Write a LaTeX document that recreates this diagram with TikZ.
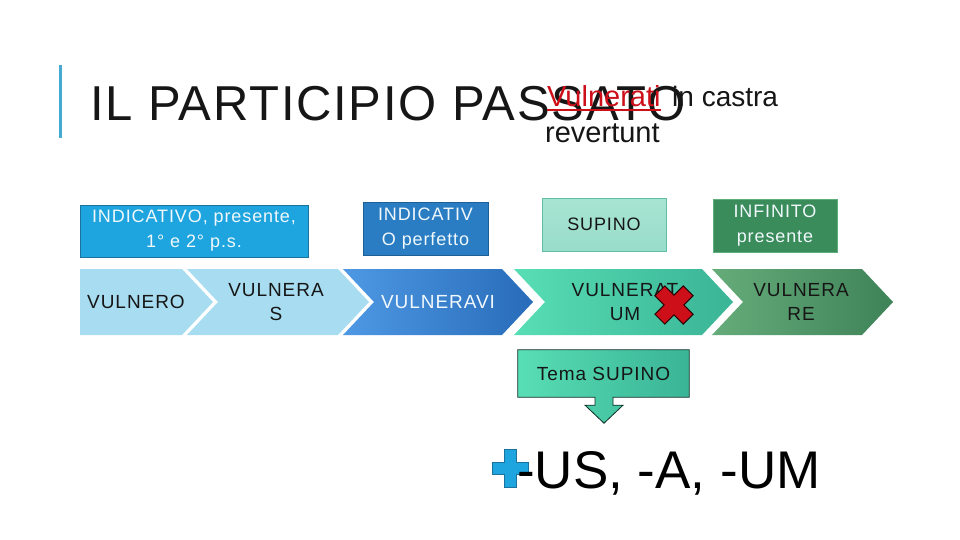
\documentclass[tikz,border=0pt]{standalone}
\usepackage{fontspec}
\setmainfont{Liberation Sans}
\usetikzlibrary{positioning}

\definecolor{barra}{RGB}{70,170,210}
\definecolor{azzurro}{RGB}{30,164,222}
\definecolor{azzurroB}{RGB}{25,115,155}
\definecolor{blu}{RGB}{42,125,195}
\definecolor{bluB}{RGB}{30,95,150}
\definecolor{menta}{RGB}{168,228,210}
\definecolor{mentaB}{RGB}{95,190,165}
\definecolor{verde}{RGB}{58,140,90}
\definecolor{verdeB}{RGB}{95,175,125}
\definecolor{celeste}{RGB}{168,220,240}
\definecolor{bluA}{RGB}{78,152,228}
\definecolor{bluZ}{RGB}{40,108,185}
\definecolor{acquaA}{RGB}{88,222,180}
\definecolor{acquaZ}{RGB}{58,180,150}
\definecolor{prato}{RGB}{102,172,122}
\definecolor{pratoZ}{RGB}{62,130,88}
\definecolor{rosso}{RGB}{205,15,25}
\definecolor{testo}{RGB}{22,22,22}
\definecolor{bianco}{RGB}{240,248,252}

\begin{document}
\begin{tikzpicture}[x=1pt,y=-1pt]
% define box types
\tikzstyle{topbox}=[draw, rectangle, line width=1pt, align=center,
    inner sep=0pt, font=\fontsize{18}{25}\selectfont\addfontfeatures{LetterSpace=5}]
\tikzstyle{lbl}=[align=center, inner sep=0pt, text=testo,
    font=\fontsize{19}{24}\selectfont\addfontfeatures{LetterSpace=5}]
\tikzstyle{chev}=[draw=none]
\useasboundingbox[fill=white] (0,0) rectangle (960,540);
% title
\fill[barra] (59,65) rectangle (62,138);
\node[anchor=base west, inner sep=0pt, text=testo,
    font=\fontsize{49}{60}\selectfont\addfontfeatures{LetterSpace=3.5}] (titolo) at (90,121) {IL PARTICIPIO PASSATO};
\node[anchor=base west, inner sep=0pt, text=rosso,
    font=\fontsize{29}{36}\selectfont] (vuln) at (547,107) {Vulnerati};
\node[anchor=base west, inner sep=0pt, text=testo,
    font=\fontsize{28}{36}\selectfont] (castra) at (672,107) {in castra};
\node[anchor=base west, inner sep=0pt, text=testo,
    font=\fontsize{29}{36}\selectfont] (revert) at (545,143) {revertunt};
\draw[rosso, line width=2.5pt] ([yshift=-3pt]vuln.base west) -- ([yshift=-3pt]vuln.base east);
% top boxes
\node[topbox, fill=azzurro, draw=azzurroB, text=bianco,
    minimum width=228pt, minimum height=52pt] (indpres) at (194,231)
    {INDICATIVO, presente,\\1° e 2° p.s.};
\node[topbox, fill=blu, draw=bluB, text=bianco,
    minimum width=125pt, minimum height=53pt] (indperf) at (425.5,228.5)
    {INDICATIV\\O perfetto};
\node[topbox, top color=menta, bottom color=menta!85!acquaZ, draw=mentaB, text=testo,
    minimum width=124pt, minimum height=53pt] (supino) at (604,224.5) {SUPINO};
\node[topbox, fill=verde, draw=verdeB, text=bianco,
    minimum width=124pt, minimum height=53pt] (infinito) at (775,225.5)
    {INFINITO\\presente};
% chevrons
\path[chev, fill=celeste] (80,269) -- (182,269) -- (213,302) -- (182,335) -- (80,335) -- cycle;
\path[chev, fill=celeste] (187,269) -- (338,269) -- (369,302) -- (338,335) -- (187,335) -- (218,302) -- cycle;
\path[chev, left color=bluA, right color=bluZ] (343,269) -- (502,269) -- (533,302) -- (502,335) -- (343,335) -- (374,302) -- cycle;
\path[chev, left color=acquaA, right color=acquaZ] (514,269) -- (702,269) -- (733,302) -- (702,335) -- (514,335) -- (545,302) -- cycle;
\path[chev, left color=prato, right color=pratoZ] (712,269) -- (862,269) -- (893,302) -- (862,335) -- (712,335) -- (743,302) -- cycle;
\node[lbl] (vulnero) at (136,302) {VULNERO};
\node[lbl] (vulneras) at (276,302) {VULNERA\\S};
\node[lbl, text=bianco] (vulneravi) at (438,302) {VULNERAVI};
\node[lbl] (vulneratum) at (625,302) {VULNERAT\\UM};
\node[lbl] (vulnerare) at (801,302) {VULNERA\\RE};
% red cross
\begin{scope}[shift={(674,305)}, rotate=45]
\draw[fill=rosso, draw=black!80!rosso, line width=1pt]
    (7,20) -- (7,7) -- (20,7) -- (20,-7) -- (7,-7) -- (7,-20) -- (-7,-20)
    -- (-7,-7) -- (-20,-7) -- (-20,7) -- (-7,7) -- (-7,20) -- cycle;
\end{scope}
% callout
\node[minimum width=171pt, minimum height=47pt, inner sep=0pt] (tema) at (603.5,373.5) {};
\draw[left color=acquaA, right color=acquaZ, draw=black!75!acquaZ, line width=0.8pt]
    (tema.north west) -- (tema.north east) -- (tema.south east) -- ([xshift=9.5pt]tema.south)
    -- ++(0,8) -- ++(10,0) -- ++(-19,18) -- ++(-19,-18) -- ++(10,0) -- ++(0,-8)
    -- (tema.south west) -- cycle;
\node[lbl] (temalbl) at (tema) {Tema SUPINO};
% ending
\draw[fill=azzurro, draw=azzurroB, line width=1pt]
    (516,449) -- (516,462) -- (528,462) -- (528,474) -- (516,474) -- (516,487)
    -- (504,487) -- (504,474) -- (492,474) -- (492,462) -- (504,462) -- (504,449) -- cycle;
\node[anchor=base west, inner sep=0pt, text=black,
    font=\fontsize{53}{60}\selectfont] (desinenze) at (517,488) {-US, -A, -UM};
\end{tikzpicture}
\end{document}
